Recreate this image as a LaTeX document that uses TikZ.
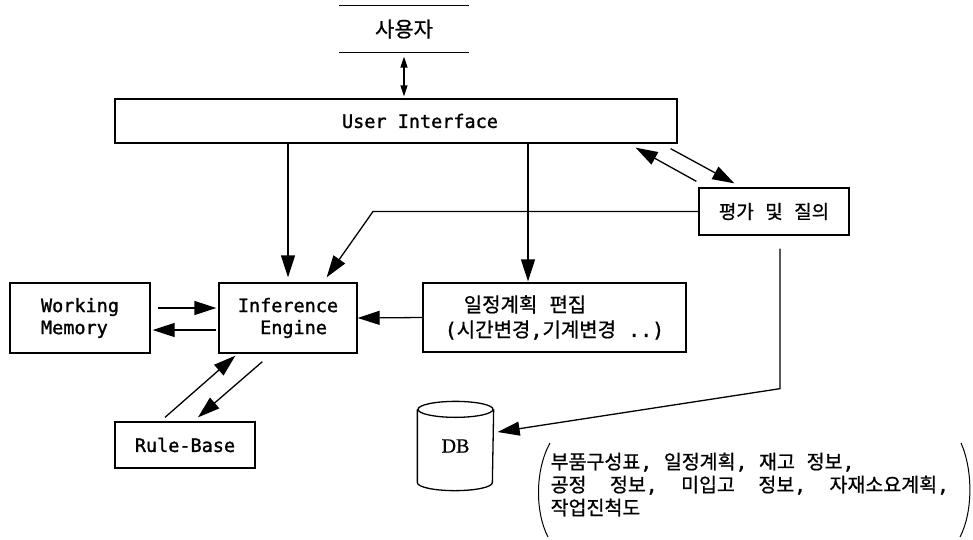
\documentclass[tikz,border=0pt]{standalone}
\usepackage{fontspec}
\usetikzlibrary{arrows.meta,calc}
\newfontfamily\kr[FakeBold=0.8]{Noto Sans CJK KR}
\newfontfamily\mono[FakeBold=1.3]{DejaVu Sans Mono}
\newfontfamily\dbfont[FakeBold=0.6]{Liberation Serif}
\newcommand\asc[1]{{\mono #1}}
\begin{document}
\begin{tikzpicture}[x=1pt,y=-1pt, line width=1.3pt,
  box/.style={draw, inner sep=0pt},
  lat/.style={font=\mono\fontsize{18.5}{22}\selectfont},
  kor/.style={font=\kr\fontsize{19}{24}\selectfont},
  arr/.style={-{Triangle[length=22pt,width=14pt]}},
  sarr/.style={{Triangle[length=11pt,width=7pt]}-{Triangle[length=11pt,width=7pt]}},
]
\useasboundingbox (0,0) rectangle (973,539);

% nodes
\node[kor, font=\kr\fontsize{21}{24}\selectfont, minimum width=128, minimum height=46, inner sep=0pt] (user) at (404,29) {사용자};
\node[lat, box, minimum width=562, minimum height=44] (ui) at (396,121) {\hspace*{48pt}User Interface};
\node[kor, box, minimum width=150, minimum height=47] (eval) at (774,211.5) {평가\asc{\ }및\asc{\ }질의};
\node[lat, box, align=left, minimum width=140, minimum height=70] (wm) at (80,318) {Working\\Memory};
\node[lat, box, align=center, minimum width=138, minimum height=70] (ie) at (288,318) {Inference\\\hphantom{x}Engine};
\node[kor, font=\kr\fontsize{20}{25}\selectfont, box, align=left, minimum width=263, minimum height=69] (plan) at (554.5,317.5)
  {\hspace*{19pt}일정계획\asc{\ }편집\\\asc{(}시간변경\asc{,}기계변경\asc{\ ..)}};
\node[lat, box, minimum width=140, minimum height=46] (rb) at (185,445) {Rule-Base};
\node[font=\dbfont\fontsize{20}{22}\selectfont, minimum width=75, minimum height=88, inner sep=0pt] (db) at (455.5,446) {DB};
\node[kor, align=left, anchor=north west, inner sep=0pt, font=\kr\fontsize{19.5}{23}\selectfont] (info) at (550,452)
  {부품구성표\asc{,\ }일정계획\asc{,\ }재고\asc{\ }정보\asc{,}\\
   공정\asc{\ \ }정보\asc{,\ \ }미입고\asc{\ \ }정보\asc{,\ \ }자재소요계획\asc{,}\\
   작업진척도};

% user lines
\draw (user.north west) -- (user.north east);
\draw (user.south west) -- (user.south east);

% DB cylinder
\draw ($(db.north)+(0,8)$) ellipse [x radius=37.5pt, y radius=8pt];
\draw ($(db.north west)+(0,8)$) -- ($(db.south west)+(0,-8)$)
  arc[start angle=180, end angle=360, x radius=37.5pt, y radius=8pt]
  -- ($(db.north east)+(0,8)$);

% parentheses
\draw[line width=1pt] ($(info.north west)+(0,-9)$) .. controls ($(info.north west)+(-15,18)$) and ($(info.north west)+(-15,60)$) .. ($(info.north west)+(-2,85)$);
\draw[line width=1pt] (961,443) .. controls (973,470) and (973,512) .. (960,537);

% connectors
\coordinate (u2) at (user.south |- ui.north);
\draw[sarr] ($(user.south)+(0,4)$) -- ($(u2)+(0,-2)$);

\draw[arr] (ui.south -| ie.north) -- ($(ie.north)+(0,-5)$);
\coordinate (p1) at ($(plan.north)+(-26.5,-1)$);
\draw[arr] (ui.south -| p1) -- (p1);

\draw[arr] ($(ui.south east)+(-7,5)$) -- ($(eval.north west)+(36,-4)$);
\draw[arr] ($(eval.north west)+(-2,-6)$) -- ($(ui.south east)+(-42,4)$);

\coordinate (bend1) at (373,211.5);
\draw[arr] (eval.west) -- (bend1) -- ($(ie.north east)+(-31,-5)$);

\coordinate (e1) at ($(eval.south)+(6,13)$);
\coordinate (e2) at ($(eval.south)+(6,153)$);
\draw[arr] (e1) -- (e2) -- ($(db.east)+(4,-14)$);

\draw[arr] ($(wm.east)+(7,-10)$) -- ($(ie.west)+(-2,-10)$);
\draw[arr] ($(ie.west)+(-2,12)$) -- ($(wm.east)+(2,12)$);

\draw[arr] (plan.west) -- (ie.east);

\draw[arr] ($(rb.north)+(-20,-4)$) -- ($(ie.south west)+(17,2)$);
\draw[arr] ($(ie.south west)+(44,8)$) -- ($(rb.north)+(13,-4)$);
\end{tikzpicture}
\end{document}
